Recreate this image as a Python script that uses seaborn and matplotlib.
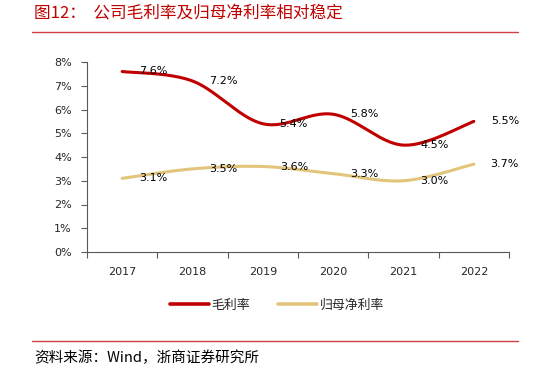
import numpy as np
import pandas as pd
import matplotlib
matplotlib.use("Agg")
import matplotlib.pyplot as plt
import seaborn as sns
from matplotlib.lines import Line2D

years = ["2017", "2018", "2019", "2020", "2021", "2022"]
gross_margin = [7.6, 7.2, 5.4, 5.8, 4.5, 5.5]
net_margin = [3.1, 3.5, 3.6, 3.3, 3.0, 3.7]
series_names = ["毛利率", "归母净利率"]
y_ticks = [0, 1, 2, 3, 4, 5, 6, 7, 8]
title_text = "图12：  公司毛利率及归母净利率相对稳定"
source_text = "资料来源：Wind，浙商证券研究所"

RED = "#C00000"
GOLD = "#E2C47A"
TXT = "#262626"

sns.set_theme(style="white")
plt.rcParams["font.family"] = ["DejaVu Sans", "Noto Sans CJK SC"]
CJK = ["Noto Sans CJK SC", "DejaVu Sans"]


def smooth(xs, ys, n=40):
    # Excel-like smoothed line (Bezier through the data points)
    P = np.column_stack([xs, ys]).astype(float)
    Pe = np.vstack([P[0], P, P[-1]])
    out = []
    for i in range(len(P) - 1):
        p0, p1, p2, p3 = Pe[i], Pe[i + 1], Pe[i + 2], Pe[i + 3]
        c1 = p1 + (p2 - p0) / 6
        c2 = p2 - (p3 - p1) / 6
        t = np.linspace(0, 1, n)[:, None]
        seg = ((1 - t) ** 3) * p1 + 3 * ((1 - t) ** 2) * t * c1 + 3 * (1 - t) * t ** 2 * c2 + t ** 3 * p2
        out.append(seg if i == 0 else seg[1:])
    return np.vstack(out)


fig = plt.figure(figsize=(5.48, 3.72), dpi=100)
ax = fig.add_axes([87 / 548, 1 - 252 / 372, (509 - 87) / 548, (252 - 62) / 372])

xpos = np.arange(len(years))
frames = []
for name, vals in zip(series_names, [gross_margin, net_margin]):
    s = smooth(xpos, vals)
    frames.append(pd.DataFrame({"x": s[:, 0], "y": s[:, 1], "series": name}))
df = pd.concat(frames, ignore_index=True)

sns.lineplot(data=df, x="x", y="y", hue="series", palette=[RED, GOLD],
             sort=False, estimator=None, linewidth=2.2, ax=ax, legend=False)

for vals in [gross_margin, net_margin]:
    for xi, v in zip(xpos, vals):
        ax.annotate(f"{v:.1f}%", (xi, v), xytext=(31 * 0.72, 0), textcoords="offset points",
                    ha="center", va="center", fontsize=8, color="black")

ax.set_xlim(-0.5, len(years) - 0.5)
ax.set_ylim(0, 8)
ax.set_yticks(y_ticks)
ax.set_yticklabels([f"{t}%" for t in y_ticks], fontsize=8, color=TXT)
ax.set_xticks(np.arange(-0.5, len(years), 1.0))
ax.set_xticklabels([])
ax.set_xticks(xpos, minor=True)
ax.set_xticklabels(years, minor=True, fontsize=8, color=TXT)
ax.tick_params(axis="x", which="major", direction="out", length=4, width=0.8, color="#595959", bottom=True)
ax.tick_params(axis="x", which="minor", length=0, pad=11)
ax.tick_params(axis="y", direction="out", length=4, width=0.8, color="#595959", left=True, pad=7)
ax.set_xlabel("")
ax.set_ylabel("")
for sp in ["top", "right"]:
    ax.spines[sp].set_visible(False)
for sp in ["left", "bottom"]:
    ax.spines[sp].set_color("#595959")
    ax.spines[sp].set_linewidth(0.8)

handles = [Line2D([], [], color=RED, linewidth=2.6), Line2D([], [], color=GOLD, linewidth=2.6)]
fig.legend(handles, series_names, loc="center", bbox_to_anchor=(277 / 548, 1 - 305 / 372),
           ncol=2, frameon=False, prop={"family": CJK, "size": 9.3},
           handlelength=3.0, handletextpad=0.2, columnspacing=2.2)

fig.text(34 / 548, 1 - 14 / 372, title_text, fontsize=12, color=RED, family=CJK,
         ha="left", va="center")
fig.add_artist(Line2D([32 / 548, 518 / 548], [1 - 32 / 372] * 2, color="#D04040", linewidth=1.0))
fig.add_artist(Line2D([32 / 548, 518 / 548], [1 - 341 / 372] * 2, color="#D04040", linewidth=1.0))
fig.text(34 / 548, 1 - 358 / 372, source_text, fontsize=10.5, color="black", family=CJK,
         ha="left", va="center")

fig.savefig("out.png", dpi=100)
